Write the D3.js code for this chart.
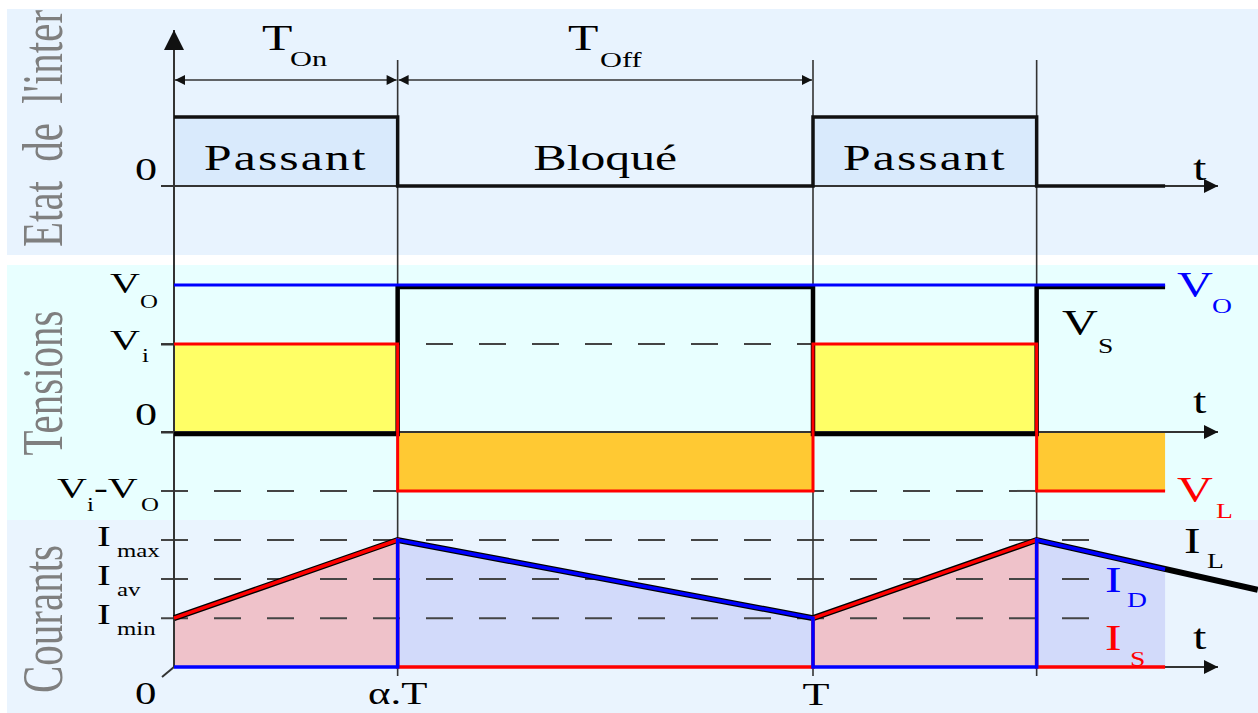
<!DOCTYPE html>
<html>
<head>
<meta charset="utf-8">
<script src="https://cdn.jsdelivr.net/npm/d3@7"></script>
<style>
  body { margin: 0; background: #fff; }
  svg { display: block; }
  text { font-family: "Liberation Serif", "Times New Roman", serif; }
</style>
</head>
<body>
<div id="chart"></div>
<script>
var svgWidth = 1258;
var svgHeight = 713;

// time axis, in periods T (alpha = 0.35)
var timeMarks = [0, 0.35, 1, 1.35];
var timeLabels = ["0", "α.T", "T"];
var tEnd = 1.551;

// switch state (1 = passant, 0 = bloqué)
var switchT = [0, 0.35, 0.35, 1, 1, 1.35, 1.35, 1.551];
var switchV = [1, 1, 0, 0, 1, 1, 0, 0];
var phaseNames = ["Passant", "Bloqué", "Passant"];
var phaseCenters = [0.175, 0.675, 1.175];

// voltages, in units of Vi
var vLevels = [1.67, 1, 0, -0.67];
var voT = [0, 1.551];
var voV = [1.67, 1.67];
var vsT = [0, 0.35, 0.35, 1, 1, 1.35, 1.35, 1.551];
var vsV = [0, 0, 1.67, 1.67, 0, 0, 1.67, 1.67];
var vlT = [0, 0.35, 0.35, 1, 1, 1.35, 1.35, 1.551];
var vlV = [1, 1, -0.67, -0.67, 1, 1, -0.67, -0.67];

// currents
var iLevels = [1.3, 0.9, 0.5];
var ilT = [0, 0.35, 1, 1.35, 1.696];
var ilV = [0.5, 1.3, 0.5, 1.3, 0.79];
var isT = [0, 0.35, 0.35, 1, 1, 1.35, 1.35, 1.551];
var isV = [0.5, 1.3, 0, 0, 0.5, 1.3, 0, 0];
var idT = [0, 0.35, 0.35, 1, 1, 1.35, 1.35, 1.551];
var idV = [0, 0, 1.3, 0.5, 0, 0, 1.3, 1.0];

var sx = 1.38; // the original drawing is stretched horizontally
var ink = "#000";

var svg = d3.select("#chart")
  .append("svg")
  .attr("width", svgWidth)
  .attr("height", svgHeight);

var xScale = d3.scaleLinear().domain([0, 1]).range([174, 813]);
var ySwitch = d3.scaleLinear().domain([0, 1]).range([186, 117]);
var yVolt = d3.scaleLinear().domain([0, 1]).range([432, 344]);
var yCur = d3.scaleLinear().domain([0, 1.3]).range([667, 540]);

var defs = svg.append("defs");

function addMarker(id, w, h, reverse) {
  defs.append("marker")
    .attr("id", id)
    .attr("viewBox", "0 0 10 10")
    .attr("refX", reverse ? 0 : 10)
    .attr("refY", 5)
    .attr("markerUnits", "userSpaceOnUse")
    .attr("markerWidth", w)
    .attr("markerHeight", h)
    .attr("orient", "auto")
    .append("path")
    .attr("d", reverse ? "M10,0 L0,5 L10,10 z" : "M0,0 L10,5 L0,10 z")
    .attr("fill", "#111");
}
addMarker("axisArrow", 28, 14, false);
addMarker("dimEnd", 22, 10, false);
addMarker("dimStart", 22, 10, true);
addMarker("upArrow", 22, 20, false);

defs.append("clipPath").attr("id", "clipTop")
  .append("rect").attr("x", 7).attr("y", 9).attr("width", 1251).attr("height", 246);

// panel backgrounds
svg.append("rect").attr("x", 7).attr("y", 9).attr("width", 1251).attr("height", 246).attr("fill", "#e8f3fe");
svg.append("rect").attr("x", 7).attr("y", 265).attr("width", 1251).attr("height", 255).attr("fill", "#e8ffff");
svg.append("rect").attr("x", 7).attr("y", 520).attr("width", 1251).attr("height", 193).attr("fill", "#eaf4fe");

function pts(ts, vs) {
  return ts.map((t, i) => [t, vs[i]]);
}

function stretched(g, x, y, str, size, color, anchor) {
  return g.append("text")
    .attr("transform", `translate(${x},${y}) scale(${sx},1)`)
    .attr("font-size", size)
    .attr("fill", color)
    .attr("text-anchor", anchor || "start")
    .text(str);
}

function subLabel(g, x, y, main, sub, size, subSize, color, subDx, subDy) {
  stretched(g, x, y, main, size, color);
  stretched(g, x + subDx, y + subDy, sub, subSize, color);
}

function sideTitle(g, cy, str, anchor, spacing) {
  g.append("text")
    .attr("transform", `translate(62,${cy}) rotate(-90) scale(1,${sx})`)
    .attr("font-size", 41)
    .attr("fill", "#7f7f7f")
    .attr("text-anchor", anchor)
    .attr("word-spacing", spacing)
    .text(str);
}

// ---------- fills ----------
var fills = svg.append("g");

fills.append("path")
  .datum(pts(switchT, switchV))
  .attr("d", d3.area().x(d => xScale(d[0])).y0(ySwitch(0)).y1(d => ySwitch(d[1])))
  .attr("fill", "#d9eafc");

fills.append("path")
  .datum(pts(vlT, vlV))
  .attr("d", d3.area().x(d => xScale(d[0])).y0(yVolt(0)).y1(d => yVolt(Math.max(d[1], 0))))
  .attr("fill", "#ffff66");

fills.append("path")
  .datum(pts(vlT, vlV))
  .attr("d", d3.area().x(d => xScale(d[0])).y0(yVolt(0)).y1(d => yVolt(Math.min(d[1], 0))))
  .attr("fill", "#ffc933");

fills.append("path")
  .datum(pts(isT, isV))
  .attr("d", d3.area().x(d => xScale(d[0])).y0(yCur(0)).y1(d => yCur(d[1])))
  .attr("fill", "#efc2ca");

fills.append("path")
  .datum(pts(idT, idV))
  .attr("d", d3.area().x(d => xScale(d[0])).y0(yCur(0)).y1(d => yCur(d[1])))
  .attr("fill", "#d2dafa");

// ---------- side titles ----------
var titles = svg.append("g");
sideTitle(titles.append("g").attr("clip-path", "url(#clipTop)"), 247, "Etat de l'inter", "start", 9);
sideTitle(titles, 383, "Tensions", "middle", 0);
sideTitle(titles, 619, "Courants", "middle", 0);

// ---------- dashed level lines ----------
var dashes = svg.append("g")
  .attr("stroke", "#444")
  .attr("stroke-width", 2)
  .attr("stroke-dasharray", "27,26");

[vLevels[1], vLevels[3]].forEach(v => {
  dashes.append("line")
    .attr("x1", 161).attr("x2", xScale(timeMarks[3]))
    .attr("y1", yVolt(v)).attr("y2", yVolt(v));
});
iLevels.forEach(v => {
  dashes.append("line")
    .attr("x1", 161).attr("x2", 1090)
    .attr("y1", yCur(v)).attr("y2", yCur(v));
});

// ---------- guides and axes ----------
var axes = svg.append("g").attr("stroke", "#333").attr("fill", "none");

timeMarks.slice(1).forEach(t => {
  axes.append("line")
    .attr("x1", xScale(t)).attr("x2", xScale(t))
    .attr("y1", 60).attr("y2", 676)
    .attr("stroke-width", 1.6);
});

axes.append("line")
  .attr("x1", xScale(0)).attr("x2", xScale(0))
  .attr("y1", yCur(0)).attr("y2", 30)
  .attr("stroke-width", 2)
  .attr("marker-end", "url(#upArrow)");

axes.append("line")
  .attr("x1", xScale(0)).attr("x2", xScale(0) - 12)
  .attr("y1", yCur(0)).attr("y2", yCur(0) + 10)
  .attr("stroke-width", 2);

[ySwitch(0), yVolt(0), yCur(0)].forEach((y, i) => {
  axes.append("line")
    .attr("x1", i === 2 ? xScale(0) : 161).attr("x2", 1218)
    .attr("y1", y).attr("y2", y)
    .attr("stroke-width", 2)
    .attr("marker-end", "url(#axisArrow)");
});

// tick stubs on the voltage axis
var vAxis = svg.append("g")
  .attr("transform", `translate(${xScale(0)},0)`)
  .call(d3.axisLeft(yVolt).tickValues([vLevels[1], vLevels[2]]).tickSize(13).tickFormat(""));
vAxis.select(".domain").remove();
vAxis.selectAll("line").attr("stroke", "#333").attr("stroke-width", 2);

// dimension arrows T_on / T_off
[[timeMarks[0], timeMarks[1]], [timeMarks[1], timeMarks[2]]].forEach(p => {
  axes.append("line")
    .attr("x1", xScale(p[0]) + 1).attr("x2", xScale(p[1]) - 1)
    .attr("y1", 80).attr("y2", 80)
    .attr("stroke-width", 1.6)
    .attr("marker-start", "url(#dimStart)")
    .attr("marker-end", "url(#dimEnd)");
});

// ---------- waveforms ----------
var lineOf = (ys) => d3.line().x(d => xScale(d[0])).y(d => ys(d[1]));
var waves = svg.append("g").attr("fill", "none").attr("stroke-linejoin", "miter");

waves.append("path")
  .datum(pts(switchT, switchV))
  .attr("d", lineOf(ySwitch))
  .attr("stroke", "#111").attr("stroke-width", 3.5);

waves.append("path")
  .datum(pts(vsT, vsV))
  .attr("d", lineOf(yVolt))
  .attr("transform", "translate(0,2)")
  .attr("stroke", "#000").attr("stroke-width", 4.5);

waves.append("path")
  .datum(pts(voT, voV))
  .attr("d", lineOf(yVolt))
  .attr("stroke", "#0000ff").attr("stroke-width", 3);

waves.append("path")
  .datum(pts(vlT, vlV))
  .attr("d", lineOf(yVolt))
  .attr("stroke", "#ff0000").attr("stroke-width", 3);

waves.append("path")
  .datum(pts(ilT, ilV))
  .attr("d", lineOf(yCur))
  .attr("stroke", "#000").attr("stroke-width", 6);

waves.append("path")
  .datum(pts(isT, isV))
  .attr("d", lineOf(yCur))
  .attr("stroke", "#ff0000").attr("stroke-width", 3.5);

waves.append("path")
  .datum(pts(idT, idV))
  .attr("d", lineOf(yCur))
  .attr("stroke", "#0000ff").attr("stroke-width", 3.5);

// ---------- labels ----------
var labels = svg.append("g");

subLabel(labels, 262, 50, "T", "On", 36, 22, ink, 28, 16);
subLabel(labels, 568, 50, "T", "Off", 36, 22, ink, 32, 17);

phaseNames.forEach((name, i) => {
  stretched(labels, xScale(phaseCenters[i]), 170, name, 36, ink, "middle")
    .attr("letter-spacing", name === "Passant" ? 1.5 : 0);
});

stretched(labels, 135, ySwitch(0) - 6, "0", 32, ink);
stretched(labels, 1193, ySwitch(0) - 6, "t", 35, ink);

// voltage labels
subLabel(labels, 110, yVolt(vLevels[0]) + 8, "V", "O", 30, 18, ink, 30, 15);
subLabel(labels, 110, yVolt(vLevels[1]) + 6, "V", "i", 30, 18, ink, 32, 12);
stretched(labels, 135, yVolt(vLevels[2]) - 7, "0", 32, ink);
subLabel(labels, 57, yVolt(vLevels[3]) + 7, "V", "i", 30, 18, ink, 30, 13);
stretched(labels, 94, yVolt(vLevels[3]) + 7, "-V", 30, ink);
stretched(labels, 141, yVolt(vLevels[3]) + 20, "O", 18, ink);

subLabel(labels, 1177, yVolt(vLevels[0]) + 12, "V", "O", 36, 20, "#0000ff", 35, 16);
subLabel(labels, 1062, yVolt(vLevels[1]) - 9, "V", "S", 36, 20, ink, 36, 18);
stretched(labels, 1193, yVolt(0) - 19, "t", 35, ink);
subLabel(labels, 1177, yVolt(vLevels[3]) + 11, "V", "L", 36, 20, "#ff0000", 39, 16);

// current labels
var iNames = ["max", "av", "min"];
iLevels.forEach((v, i) => {
  subLabel(labels, 97, yCur(v) + 6, "I", iNames[i], 30, 18, ink, 20, 11);
});

subLabel(labels, 1184, 553, "I", "L", 36, 20, ink, 23, 15);
subLabel(labels, 1105, 592, "I", "D", 36, 20, "#0000ff", 22, 15);
subLabel(labels, 1105, 650, "I", "S", 36, 20, "#ff0000", 25, 16);
stretched(labels, 1193, yCur(0) - 18, "t", 35, ink);

stretched(labels, 135, 704, timeLabels[0], 31, ink);
stretched(labels, xScale(timeMarks[1]), 704, timeLabels[1], 31, ink, "middle");
stretched(labels, xScale(timeMarks[2]) + 3, 705, timeLabels[2], 32, ink, "middle");
</script>
</body>
</html>
